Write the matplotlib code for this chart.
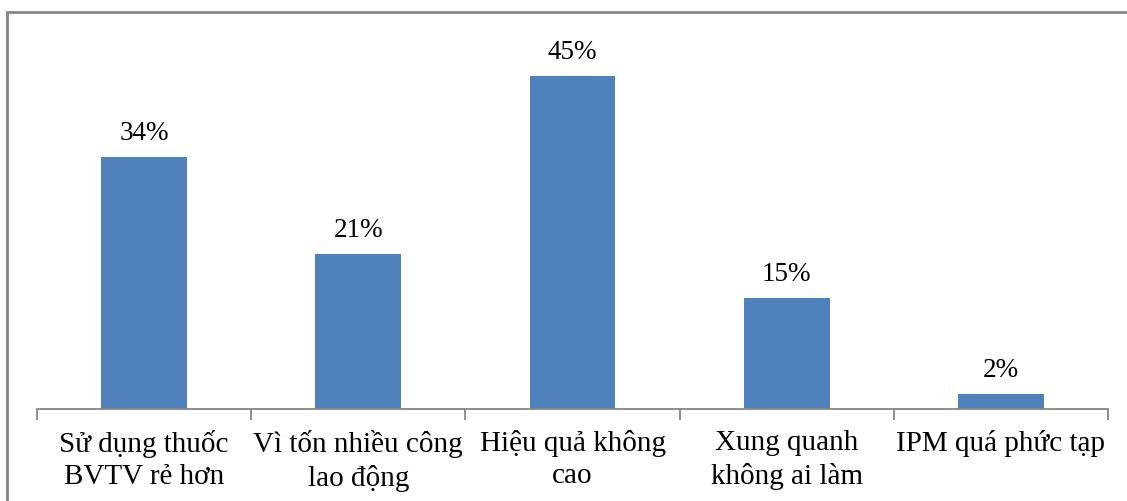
import matplotlib
matplotlib.use("Agg")
import matplotlib.pyplot as plt
from matplotlib.patches import Rectangle

categories = ["Sử dụng thuốc\nBVTV rẻ hơn", "Vì tốn nhiều công\nlao động",
              "Hiệu quả không\ncao", "Xung quanh\nkhông ai làm", "IPM quá phức tạp"]
values = [34, 21, 45, 15, 2]

plt.rcParams['font.family'] = ['Liberation Serif', 'DejaVu Serif']

fig = plt.figure(figsize=(11.27, 5.01), dpi=100)
ax = fig.add_axes([37/1127, 1 - 409/501, (1108 - 37)/1127, 370/501])

x = list(range(len(values)))
ax.bar(x, values, width=0.4, color='#4F81BD')
for xi, v in zip(x, values):
    ax.text(xi, v + 2.3, f"{v}%", ha='center', va='baseline', fontsize=19.5)

ax.set_xlim(-0.5, len(values) - 0.5)
ax.set_ylim(0, 50)
for s in ['top', 'right', 'left']:
    ax.spines[s].set_visible(False)
ax.spines['bottom'].set_color('#868686')
ax.spines['bottom'].set_linewidth(1.3)
ax.set_yticks([])

# ticks sit on the category boundaries, labels at the centers
ax.set_xticks([i - 0.5 for i in range(len(values) + 1)])
ax.set_xticklabels([])
ax.tick_params(axis='x', length=8, color='#868686', width=1.3)
for xi, lab in zip(x, categories):
    ax.text(xi, -2.9, lab, ha='center', va='top', fontsize=21,
            linespacing=1.3)

# chart frame
fig.patches.append(Rectangle((7/1127, -0.1), 1.2, 1 - 12/501 + 0.1,
                             transform=fig.transFigure, fill=False,
                             edgecolor='#878787', linewidth=2))

fig.savefig("out.png", dpi=100)
